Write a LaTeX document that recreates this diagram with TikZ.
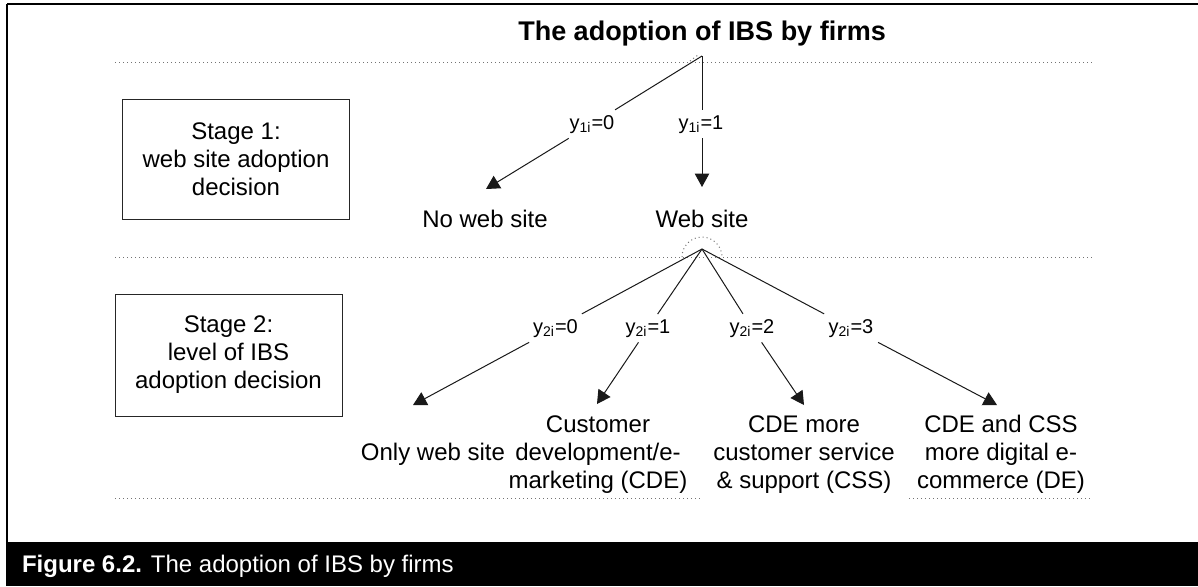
\documentclass[tikz,border=0pt]{standalone}
\usepackage{fontspec}
\setmainfont{Liberation Sans}
\usetikzlibrary{arrows.meta}

\begin{document}
\begin{tikzpicture}[x=0.5pt,y=-0.5pt,
  every node/.style={inner sep=0pt, outer sep=0pt},
  body/.style={font=\fontsize{12}{14}\selectfont, align=center},
  leaf/.style={body, anchor=base},
  titletext/.style={font=\fontsize{13.5}{16}\selectfont\bfseries, anchor=base},
  stagebox/.style={body, draw=black!85, line width=0.5pt, minimum width=113.5pt},
  lab/.style={font=\fontsize{10}{12}\selectfont, inner xsep=2.5pt, inner ysep=2.6pt, anchor=base},
  edge/.style={draw=black!90, line width=0.5pt},
  arr/.style={edge, -{Triangle[length=6.7pt,width=7.2pt]}},
  guide/.style={draw=black!55, line width=0.5pt, dash pattern=on 0.5pt off 1.5pt},
  frameline/.style={draw=black, line width=1pt}
]
\useasboundingbox (0,0) rectangle (1198,586);
\fill[white] (0,0) rectangle (1198,586);

% frame and caption band
\draw[frameline] (7,4) -- (1198,4);
\draw[frameline] (7,4) -- (7,542);
\fill[black] (6,542) rectangle (1198,586);
\node[anchor=base west, text=white, font=\fontsize{12}{14}\selectfont] (caption) at (22,572)
  {\textbf{Figure 6.2.} The adoption of IBS by firms};

% stage separators
\draw[guide] (115,62) -- (1092,62);
\draw[guide] (115,257) -- (1092,257);
\draw[guide] (115,498) -- (703,498);
\draw[guide] (909,498) -- (1092,498);
\draw[guide] (690,61) -- (698,55);
\draw[guide] (682,257) arc[start angle=180, end angle=360, radius=20];

% title
\node[titletext] (title) at (702,40) {The adoption of IBS by firms};

% stage boxes
\node[stagebox, minimum height=60pt] (stage1) at (236,159)
  {Stage 1:\\web site adoption\\decision};
\node[stagebox, minimum height=61pt] (stage2) at (228.5,355)
  {Stage 2:\\level of IBS\\adoption decision};

% stage 1 tree
\coordinate (A1) at (702,56);
\node[lab] (l10) at (592,129) {y\textsubscript{1i}=0};
\node[lab] (l11) at (701,129) {y\textsubscript{1i}=1};
\coordinate (t10) at (486,189);
\coordinate (t11) at (702,187);
\node[leaf] (noweb) at (485,227) {No web site};
\node[leaf] (web) at (702,227) {Web site};

\draw[edge] (A1) -- (l10);
\draw[edge] (A1) -- (l11.north -| A1);
\draw[arr] (l10) -- (t10);
\draw[arr] (l11.south -| A1) -- (t11);

% stage 2 tree
\coordinate (A2) at (702,249);
\node[lab] (l20) at (555.5,333) {y\textsubscript{2i}=0};
\node[lab] (l21) at (648,333) {y\textsubscript{2i}=1};
\node[lab] (l22) at (752,333) {y\textsubscript{2i}=2};
\node[lab] (l23) at (851,333) {y\textsubscript{2i}=3};
\coordinate (t20) at (413,405);
\coordinate (t21) at (597,404);
\coordinate (t22) at (804,405);
\coordinate (t23) at (997,405);

% leaves (base anchor = baseline of the last line)
\node[leaf] (only) at (433,460) {Only web site};
\node[leaf] (cde) at (598,488) {Customer\\development/e-\\marketing (CDE)};
\node[leaf] (css) at (804,488) {CDE more\\customer service\\\& support (CSS)};
\node[leaf] (de) at (1001,488) {CDE and CSS\\more digital e-\\commerce (DE)};

\foreach \k in {0,1,2,3} {
  \draw[edge] (A2) -- (l2\k);
  \draw[arr] (l2\k) -- (t2\k);
}
\end{tikzpicture}
\end{document}
